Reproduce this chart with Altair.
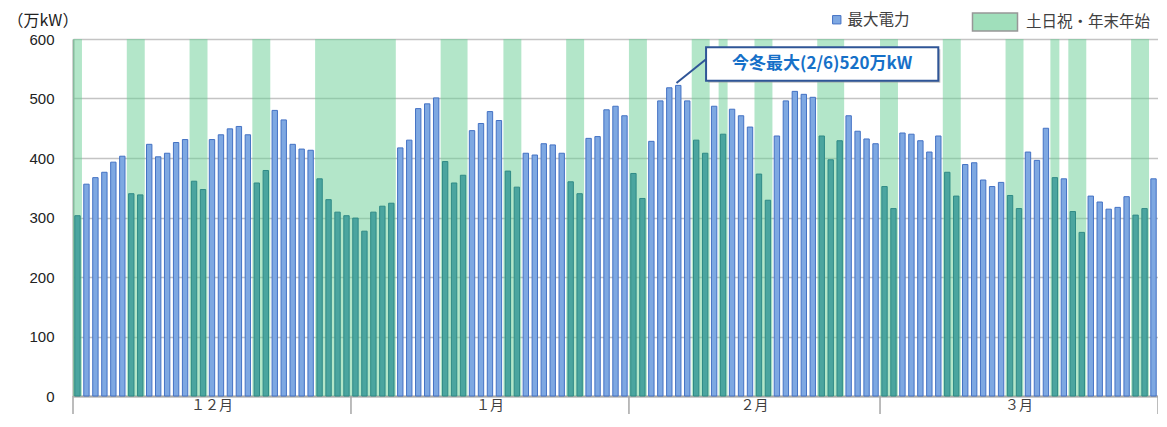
import altair as alt
import pandas as pd

# ---------------- data ----------------
months = ["１２月", "１月", "２月", "３月"]
month_days = [31, 31, 28, 31]

dec_peak = [303, 356, 367, 376, 393, 403, 340, 338, 423, 402, 408, 426, 431, 361, 347,
            431, 439, 449, 453, 439, 358, 379, 480, 464, 423, 415, 413, 365, 330, 309, 303]
jan_peak = [299, 277, 309, 319, 324, 417, 430, 483, 491, 501, 394, 358, 371, 446, 458,
            478, 463, 378, 351, 408, 405, 424, 422, 408, 360, 340, 433, 436, 481, 487, 471]
feb_peak = [374, 332, 428, 496, 518, 522, 496, 430, 408, 487, 440, 482, 471, 452, 373,
            329, 437, 496, 512, 507, 502, 437, 397, 429, 471, 445, 432, 424]
mar_peak = [352, 315, 442, 440, 429, 410, 437, 376, 336, 389, 392, 363, 352, 359, 337,
            315, 410, 396, 450, 367, 365, 310, 275, 336, 326, 314, 317, 335, 304, 315, 365]

dec_holidays = [1, 7, 8, 14, 15, 21, 22, 28, 29, 30, 31]
jan_holidays = [1, 2, 3, 4, 5, 11, 12, 13, 18, 19, 25, 26]
feb_holidays = [1, 2, 8, 9, 11, 15, 16, 22, 23, 24]
mar_holidays = [1, 2, 8, 9, 15, 16, 20, 22, 23, 29, 30]

series_name = "最大電力"
band_name = "土日祝・年末年始"
y_title = "（万kW）"
y_ticks = [0, 100, 200, 300, 400, 500, 600]
annot_text = "今冬最大(2/6)520万kW"

# annotation layout (data coordinates)
annot_box = {"x": 70.6, "x2": 96.5, "y": 586, "y2": 530}
annot_leader = {"x": 67.3, "y": 526, "x2": 70.6, "y2": 566}

# ---------------- build tables ----------------
peaks = [dec_peak, jan_peak, feb_peak, mar_peak]
hols = [dec_holidays, jan_holidays, feb_holidays, mar_holidays]
rows = []
idx = 0
for m, vals, hl in zip(months, peaks, hols):
    for d, v in enumerate(vals, start=1):
        rows.append({"idx": idx, "month": m, "day": d, "value": v,
                     "holiday": d in hl, "series": series_name})
        idx += 1
df = pd.DataFrame(rows)
df["x0"] = df["idx"] + 0.2
df["x1"] = df["idx"] + 0.8
total_days = len(df)

# merge consecutive holidays into bands
bands = []
start = None
for i, h in enumerate(df["holiday"].tolist() + [False]):
    if h and start is None:
        start = i
    if not h and start is not None:
        bands.append({"b0": start, "b1": i, "kind": band_name})
        start = None
bands_df = pd.DataFrame(bands)

bounds = [0]
for n in month_days:
    bounds.append(bounds[-1] + n)
bounds_df = pd.DataFrame({"b": bounds})
mlabel_df = pd.DataFrame({"month": months,
                          "mid": [(bounds[i] + bounds[i + 1]) / 2 for i in range(len(months))]})

annot_df = pd.DataFrame([{**annot_box, "text": annot_text,
                          "cx": (annot_box["x"] + annot_box["x2"]) / 2,
                          "cy": (annot_box["y"] + annot_box["y2"]) / 2}])
leader_df = pd.DataFrame([annot_leader])

# ---------------- chart ----------------
W, H = 1085, 357
PL, PT, PB = 65, 31, 18
JP = "Noto Sans CJK JP"

xscale = alt.Scale(domain=[0, total_days], nice=False, zero=False)
xaxis = alt.Axis(labels=False, ticks=False, grid=False, title=None,
                 domainColor="#a6a6a6", domainWidth=2)
yscale = alt.Scale(domain=[0, 600], nice=False)
yaxis = alt.Axis(values=y_ticks, title=y_title, titleAngle=0, titleX=-66, titleY=-19,
                 titleAlign="left", titleBaseline="middle", titleFont=JP,
                 titleFontSize=16, titleFontWeight="normal", titleColor="#222222",
                 labelFont="Liberation Sans", labelFontSize=15, labelColor="#222222",
                 labelPadding=19, ticks=False, grid=True, gridColor="#c4c4c4",
                 gridWidth=1.5, domainColor="#a6a6a6", domainWidth=2)

band_layer = alt.Chart(bands_df).mark_rect(opacity=0.5).encode(
    x=alt.X("b0:Q", scale=xscale, axis=xaxis),
    x2="b1:Q",
    y=alt.value(0),
    y2=alt.value(H),
    fill=alt.Fill("kind:N", scale=alt.Scale(domain=[band_name], range=["#67cd93"]),
                  legend=alt.Legend(orient="none", legendX=912, legendY=-27, title=None,
                                    padding=0, symbolType="M-2.5,-1H2.5V1H-2.5Z",
                                    symbolSize=324, symbolOpacity=0.62,
                                    symbolStrokeColor="#595959", symbolStrokeWidth=1.5,
                                    labelFont=JP, labelFontSize=15.5, labelColor="#404040",
                                    labelOffset=21)),
)

weekday_bars = alt.Chart(df).transform_filter("!datum.holiday").mark_bar(
    stroke="#4472c4", strokeWidth=1).encode(
    x=alt.X("x0:Q", scale=xscale, axis=xaxis),
    x2="x1:Q",
    y=alt.Y("value:Q", scale=yscale, axis=yaxis),
    y2=alt.datum(0),
    color=alt.Color("series:N", scale=alt.Scale(domain=[series_name], range=["#7ea8e2"]),
                    legend=alt.Legend(orient="none", legendX=756, legendY=-27, title=None,
                                      padding=0, symbolType="square", symbolSize=70,
                                      symbolStrokeColor="#4472c4", symbolStrokeWidth=1,
                                      labelFont=JP, labelFontSize=15.5,
                                      labelColor="#404040", labelOffset=3)),
)

holiday_bars = alt.Chart(df).transform_filter("datum.holiday").mark_bar(
    stroke="#2f8a86", strokeWidth=1, color="#4ba59f").encode(
    x=alt.X("x0:Q", scale=xscale, axis=xaxis),
    x2="x1:Q",
    y=alt.Y("value:Q", scale=yscale, axis=yaxis),
    y2=alt.datum(0),
)

month_rules = alt.Chart(bounds_df).mark_rule(color="#a6a6a6", strokeWidth=1.5).encode(
    x=alt.X("b:Q", scale=xscale, axis=xaxis),
    y=alt.value(H),
    y2=alt.value(H + PB),
)

month_text = alt.Chart(mlabel_df).mark_text(font=JP, fontSize=14, color="#404040",
                                            baseline="middle").encode(
    x=alt.X("mid:Q", scale=xscale, axis=xaxis),
    y=alt.value(H + 10),
    text="month:N",
)

leader = alt.Chart(leader_df).mark_rule(color="#2f5597", strokeWidth=2).encode(
    x=alt.X("x:Q", scale=xscale, axis=xaxis),
    x2="x2:Q",
    y=alt.Y("y:Q", scale=yscale, axis=yaxis),
    y2="y2:Q",
)

box_shadow = alt.Chart(annot_df).mark_rect(fill="#9a9a9a", opacity=0.6,
                                           xOffset=2, yOffset=2,
                                           x2Offset=2, y2Offset=2).encode(
    x=alt.X("x:Q", scale=xscale, axis=xaxis), x2="x2:Q",
    y=alt.Y("y:Q", scale=yscale, axis=yaxis), y2="y2:Q",
)

box = alt.Chart(annot_df).mark_rect(fill="white", stroke="#2f5597", strokeWidth=2).encode(
    x=alt.X("x:Q", scale=xscale, axis=xaxis), x2="x2:Q",
    y=alt.Y("y:Q", scale=yscale, axis=yaxis), y2="y2:Q",
)

box_text = alt.Chart(annot_df).mark_text(font=JP, fontSize=17, fontWeight="bold",
                                         color="#1670c8", baseline="middle").encode(
    x=alt.X("cx:Q", scale=xscale, axis=xaxis),
    y=alt.Y("cy:Q", scale=yscale, axis=yaxis),
    text="text:N",
)

chart = alt.layer(
    band_layer, weekday_bars, holiday_bars, month_rules, month_text,
    leader, box_shadow, box, box_text
).resolve_legend(
    color="independent", fill="independent"
).properties(
    width=W, height=H,
    autosize=alt.AutoSizeParams(type="none"),
    padding={"left": PL, "top": PT, "right": 0, "bottom": PB},
).configure_view(stroke=None)

chart.save("out.html", embed_options={"renderer": "svg", "actions": False})
